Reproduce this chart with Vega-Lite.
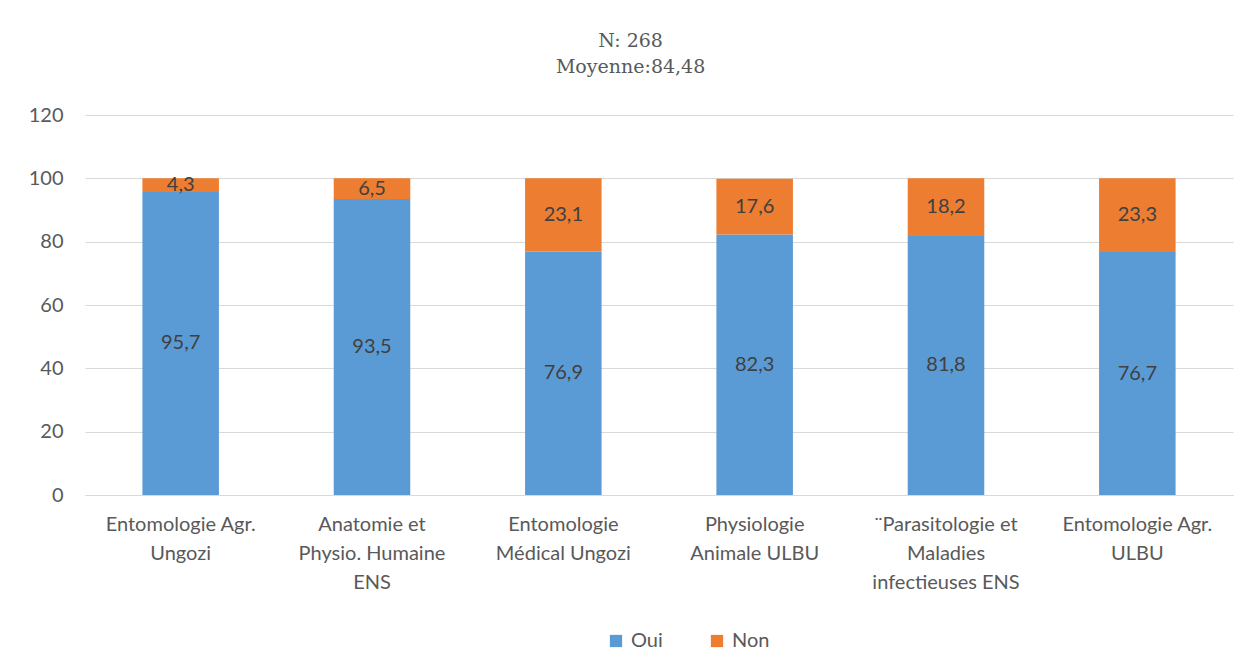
{
  "$schema": "https://vega.github.io/schema/vega-lite/v6.json",
  "width": 1148,
  "height": 380,
  "autosize": {"type": "none"},
  "padding": {"left": 85, "top": 115, "right": 25, "bottom": 177},
  "background": "white",
  "title": {
    "text": ["N: 268", "Moyenne:84,48"],
    "font": "DejaVu Serif",
    "fontSize": 19,
    "fontWeight": "normal",
    "color": "#595959",
    "lineHeight": 26,
    "anchor": "middle",
    "frame": "bounds",
    "offset": 28
  },
  "config": {
    "view": {"stroke": null},
    "locale": {"number": {"decimal": ",", "thousands": " ", "grouping": [3], "currency": ["", " €"]}},
    "font": "Lato"
  },
  "data": {
    "values": [
      {"cat": "Entomologie Agr.|Ungozi", "rep": "Oui", "val": 95.7, "ord": 1},
      {"cat": "Entomologie Agr.|Ungozi", "rep": "Non", "val": 4.3, "ord": 2},
      {"cat": "Anatomie et|Physio. Humaine|ENS", "rep": "Oui", "val": 93.5, "ord": 1},
      {"cat": "Anatomie et|Physio. Humaine|ENS", "rep": "Non", "val": 6.5, "ord": 2},
      {"cat": "Entomologie|Médical Ungozi", "rep": "Oui", "val": 76.9, "ord": 1},
      {"cat": "Entomologie|Médical Ungozi", "rep": "Non", "val": 23.1, "ord": 2},
      {"cat": "Physiologie|Animale ULBU", "rep": "Oui", "val": 82.3, "ord": 1},
      {"cat": "Physiologie|Animale ULBU", "rep": "Non", "val": 17.6, "ord": 2},
      {"cat": "¨Parasitologie et|Maladies|infectieuses ENS", "rep": "Oui", "val": 81.8, "ord": 1},
      {"cat": "¨Parasitologie et|Maladies|infectieuses ENS", "rep": "Non", "val": 18.2, "ord": 2},
      {"cat": "Entomologie Agr.|ULBU", "rep": "Oui", "val": 76.7, "ord": 1},
      {"cat": "Entomologie Agr.|ULBU", "rep": "Non", "val": 23.3, "ord": 2}
    ]
  },
  "encoding": {
    "x": {
      "field": "cat", "type": "nominal", "sort": null,
      "scale": {"paddingInner": 0.6, "paddingOuter": 0.3},
      "axis": {
        "title": null, "labelAngle": 0, "ticks": false,
        "labelExpr": "split(datum.label, '|')",
        "labelFont": "Lato", "labelFontSize": 20, "labelColor": "#595959",
        "labelLineHeight": 29, "labelPadding": 19,
        "domainColor": "#d9d9d9", "domainWidth": 1
      }
    },
    "y": {
      "field": "val", "type": "quantitative", "stack": "zero",
      "scale": {"domain": [0, 120]},
      "axis": {
        "title": null, "values": [0, 20, 40, 60, 80, 100, 120],
        "domain": false, "ticks": false, "labelPadding": 22,
        "labelFont": "Lato", "labelFontSize": 20, "labelColor": "#595959",
        "gridColor": "#d9d9d9", "gridWidth": 1
      }
    },
    "order": {"field": "ord", "type": "quantitative"}
  },
  "layer": [
    {
      "mark": {"type": "bar"},
      "encoding": {
        "color": {
          "field": "rep", "type": "nominal",
          "scale": {"domain": ["Oui", "Non"], "range": ["#5B9BD5", "#ED7D31"]},
          "legend": {
            "title": null, "orient": "none", "direction": "horizontal",
            "legendX": 521, "legendY": 516,
            "symbolType": "square", "symbolSize": 150, "symbolStrokeWidth": 0,
            "labelFont": "Lato", "labelFontSize": 20, "labelColor": "#595959",
            "labelOffset": 5, "columnPadding": 44
          }
        }
      }
    },
    {
      "mark": {"type": "text", "font": "Lato", "fontSize": 20, "color": "#404040", "baseline": "middle"},
      "encoding": {
        "y": {"field": "val", "type": "quantitative", "stack": "zero", "bandPosition": 0.5},
        "text": {"field": "val", "type": "quantitative", "format": ".1f"}
      }
    }
  ]
}
